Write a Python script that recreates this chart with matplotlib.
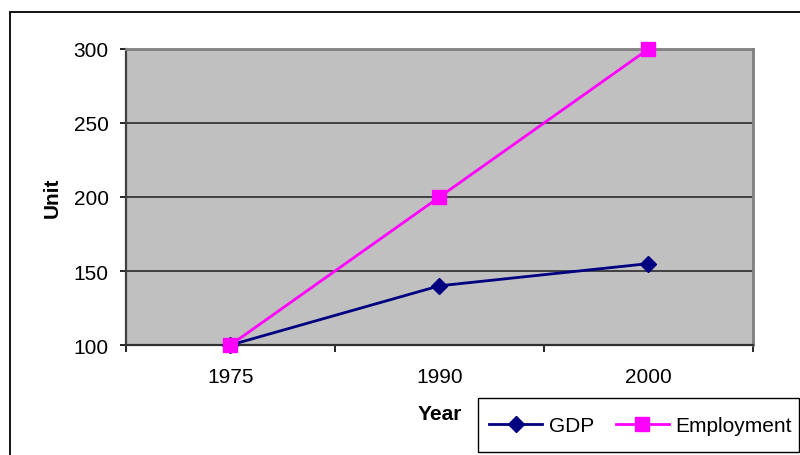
import matplotlib
matplotlib.use("Agg")
import matplotlib.pyplot as plt
from matplotlib.patches import Rectangle
from matplotlib.ticker import FixedLocator, NullFormatter, FixedFormatter

plt.rcParams['font.family'] = ['Liberation Sans', 'DejaVu Sans']

years = ["1975", "1990", "2000"]
gdp = [100, 140, 155]
employment = [100, 200, 300]
y_ticks = [100, 150, 200, 250, 300]

W, H = 800, 456
FS = 15
fig = plt.figure(figsize=(W / 100, H / 100), dpi=100)
fig.patch.set_facecolor("white")

# outer chart frame (runs off the right and bottom edges)
fig.patches.append(Rectangle((10 / W, -0.2), 1.2, 1.2 - 12.5 / H,
                             transform=fig.transFigure, fill=False,
                             edgecolor="black", linewidth=1.3))

left, right, top, bottom = 126, 753, 50, 346
ax = fig.add_axes([left / W, 1 - bottom / H, (right - left) / W, (bottom - top) / H])
ax.set_facecolor("#C0C0C0")

x = list(range(len(years)))
ax.plot(x, gdp, color="#000080", linewidth=2, marker="D", markersize=8,
        markerfacecolor="#000080", markeredgecolor="#000080", label="GDP",
        clip_on=False, zorder=3)
ax.plot(x, employment, color="#FF00FF", linewidth=2, marker="s", markersize=10,
        markerfacecolor="#FF00FF", markeredgecolor="#FF00FF", label="Employment",
        clip_on=False, zorder=4)

ax.set_xlim(-0.5, len(years) - 0.5)
ax.set_ylim(100, 300)

# category ticks sit between categories, labels at the category centres
ax.xaxis.set_major_locator(FixedLocator([i - 0.5 for i in range(len(years) + 1)]))
ax.xaxis.set_major_formatter(NullFormatter())
ax.xaxis.set_minor_locator(FixedLocator(x))
ax.xaxis.set_minor_formatter(FixedFormatter(years))
ax.tick_params(axis="x", which="major", direction="out", length=5, width=1.2, color="#000000")
ax.tick_params(axis="x", which="minor", length=0, pad=16, labelsize=FS)

ax.set_yticks(y_ticks)
ax.tick_params(axis="y", direction="out", length=4.5, width=1.2, color="#000000",
               pad=8, labelsize=FS)

for yv in y_ticks[1:-1]:
    ax.axhline(yv, color="#2a2a2a", linewidth=1.2, zorder=1)

for side in ("top", "right"):
    ax.spines[side].set_color("#808080")
    ax.spines[side].set_linewidth(2)
ax.spines["left"].set_color("#404040")
ax.spines["left"].set_linewidth(1.6)
ax.spines["bottom"].set_color("#303030")
ax.spines["bottom"].set_linewidth(1.6)

ax.set_ylabel("Unit", fontsize=FS, fontweight="bold", va="center")
ax.yaxis.set_label_coords(-74 / (right - left), 0.5)
ax.set_xlabel("Year", fontsize=FS, fontweight="bold", va="center")
ax.xaxis.set_label_coords(0.5, -69 / (bottom - top))

# legend box, with the entries centred inside it
lx0, lx1, ly0, ly1 = 478, 799, 399, 453
fig.patches.append(Rectangle((lx0 / W, 1 - ly1 / H), (lx1 - lx0) / W, (ly1 - ly0) / H,
                             transform=fig.transFigure, facecolor="white",
                             edgecolor="black", linewidth=1.0, zorder=2))
handles, labels = ax.get_legend_handles_labels()
fig.legend(handles, labels, loc="center",
           bbox_to_anchor=((lx0 + lx1) / 2 / W + 2 / W, 1 - (ly0 + ly1) / 2 / H - 1 / H),
           ncol=2, frameon=False, fontsize=FS, borderaxespad=0, borderpad=0,
           handlelength=2.55, handletextpad=0.3, columnspacing=1.05)

fig.savefig("out.png", dpi=100)
